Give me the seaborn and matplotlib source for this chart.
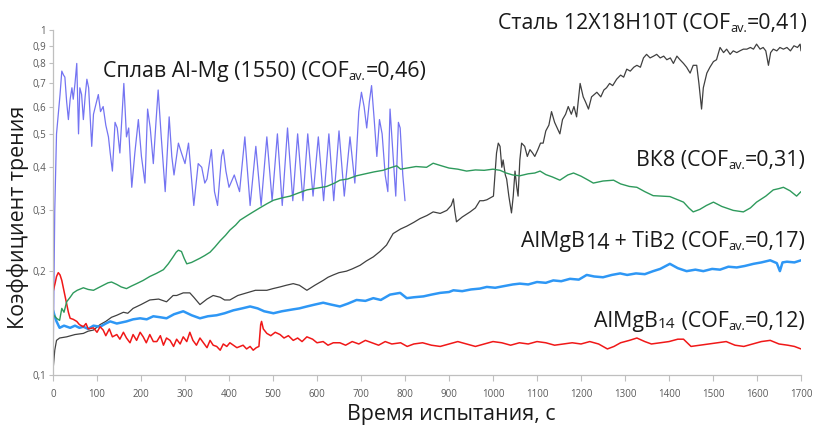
import numpy as np
import pandas as pd
import matplotlib
matplotlib.use("Agg")
import matplotlib.pyplot as plt
import seaborn as sns

# ---------------- data ----------------
t_almg = [0, 4, 8, 12, 16, 20, 24, 27, 31, 35, 39, 43, 46, 50, 54, 58, 61, 65, 69, 73, 77, 81,
          88, 92, 99, 103, 108, 114, 120, 126, 130, 135, 141, 146, 152, 161, 167, 172, 179, 186,
          194, 201, 209, 215, 221, 228, 234, 239, 246, 255, 264, 270, 275, 285, 292, 300, 308,
          320, 330, 338, 345, 350, 360, 367, 374, 383, 387, 393, 400, 412, 424, 436, 448, 461,
          473, 486, 498, 510, 521, 533, 545, 556, 568, 579, 591, 603, 615, 627, 638, 650, 662,
          675, 686, 695, 701, 707, 713, 719, 724, 730, 736, 742, 748, 755, 761, 766, 772, 779,
          785, 789, 795, 800]
cof_almg = [0.10, 0.30, 0.50, 0.57, 0.65, 0.76, 0.74, 0.73, 0.62, 0.55, 0.63, 0.68, 0.63, 0.70,
            0.80, 0.50, 0.68, 0.65, 0.55, 0.64, 0.72, 0.68, 0.46, 0.57, 0.62, 0.65, 0.58, 0.60,
            0.53, 0.49, 0.44, 0.39, 0.54, 0.52, 0.44, 0.70, 0.49, 0.52, 0.35, 0.44, 0.55, 0.43,
            0.36, 0.59, 0.52, 0.41, 0.54, 0.67, 0.49, 0.34, 0.56, 0.43, 0.38, 0.47, 0.44, 0.41,
            0.47, 0.31, 0.41, 0.40, 0.36, 0.37, 0.45, 0.34, 0.31, 0.43, 0.45, 0.39, 0.35, 0.38,
            0.34, 0.49, 0.31, 0.46, 0.31, 0.49, 0.32, 0.50, 0.31, 0.52, 0.32, 0.50, 0.32, 0.50,
            0.33, 0.49, 0.32, 0.50, 0.32, 0.51, 0.33, 0.49, 0.36, 0.58, 0.66, 0.60, 0.52, 0.62,
            0.69, 0.55, 0.43, 0.55, 0.50, 0.38, 0.34, 0.59, 0.45, 0.33, 0.54, 0.52, 0.38, 0.32]

t_steel = [0, 4, 8, 15, 31, 50, 69, 80, 92, 107, 120, 133, 145, 160, 170, 182, 200, 220, 240,
           258, 273, 281, 296, 311, 320, 334, 350, 364, 380, 390, 402, 420, 440, 460, 486, 500,
           516, 530, 546, 560, 577, 595, 614, 625, 637, 650, 667, 680, 698, 712, 728, 743, 758,
           773, 790, 804, 820, 834, 850, 864, 880, 895, 905, 910, 913, 917, 930, 948, 960, 970,
           978, 986, 1001, 1008, 1012, 1016, 1020, 1023, 1028, 1031, 1036, 1042, 1046, 1050,
           1054, 1057, 1061, 1065, 1072, 1078, 1084, 1090, 1095, 1102, 1108, 1114, 1120, 1127,
           1133, 1140, 1146, 1152, 1158, 1165, 1171, 1178, 1184, 1190, 1198, 1205, 1210, 1217,
           1224, 1230, 1236, 1245, 1252, 1258, 1265, 1272, 1281, 1290, 1297, 1304, 1312, 1320,
           1327, 1335, 1342, 1349, 1357, 1365, 1372, 1380, 1388, 1395, 1403, 1410, 1418, 1425,
           1433, 1440, 1448, 1455, 1463, 1468, 1474, 1478, 1486, 1493, 1501, 1508, 1516, 1524,
           1531, 1539, 1546, 1554, 1561, 1569, 1577, 1585, 1592, 1599, 1607, 1614, 1620, 1626,
           1631, 1637, 1645, 1652, 1660, 1668, 1676, 1684, 1692, 1698, 1700]
cof_steel = [0.103, 0.118, 0.126, 0.128, 0.129, 0.131, 0.132, 0.134, 0.135, 0.140, 0.143, 0.147,
             0.149, 0.152, 0.151, 0.156, 0.160, 0.165, 0.166, 0.163, 0.170, 0.170, 0.173, 0.173,
             0.168, 0.160, 0.166, 0.170, 0.168, 0.165, 0.165, 0.170, 0.173, 0.176, 0.176, 0.178,
             0.180, 0.182, 0.184, 0.182, 0.176, 0.182, 0.188, 0.192, 0.195, 0.198, 0.200, 0.203,
             0.208, 0.214, 0.220, 0.228, 0.238, 0.257, 0.265, 0.270, 0.277, 0.284, 0.290, 0.297,
             0.294, 0.300, 0.310, 0.324, 0.300, 0.278, 0.287, 0.297, 0.305, 0.320, 0.320, 0.322,
             0.330, 0.440, 0.470, 0.460, 0.400, 0.420, 0.380, 0.370, 0.330, 0.295, 0.330, 0.390,
             0.350, 0.330, 0.420, 0.470, 0.460, 0.430, 0.450, 0.440, 0.430, 0.450, 0.470, 0.470,
             0.510, 0.530, 0.580, 0.540, 0.520, 0.500, 0.550, 0.570, 0.600, 0.570, 0.600, 0.560,
             0.700, 0.640, 0.620, 0.590, 0.640, 0.650, 0.660, 0.640, 0.670, 0.680, 0.700, 0.690,
             0.720, 0.740, 0.730, 0.770, 0.760, 0.780, 0.790, 0.780, 0.830, 0.850, 0.830, 0.840,
             0.850, 0.830, 0.840, 0.820, 0.830, 0.800, 0.840, 0.820, 0.800, 0.780, 0.750, 0.790,
             0.790, 0.700, 0.590, 0.680, 0.750, 0.780, 0.810, 0.820, 0.890, 0.860, 0.880, 0.850,
             0.870, 0.860, 0.870, 0.880, 0.880, 0.890, 0.880, 0.910, 0.880, 0.890, 0.870, 0.790,
             0.860, 0.880, 0.870, 0.890, 0.880, 0.890, 0.870, 0.900, 0.890, 0.910, 0.870]

t_vk8 = [0, 8, 15, 20, 25, 31, 39, 46, 55, 69, 80, 92, 103, 114, 125, 133, 145, 155, 167, 178,
         190, 205, 220, 235, 251, 262, 273, 280, 285, 292, 298, 304, 315, 334, 345, 357, 368,
         380, 392, 402, 415, 425, 440, 455, 470, 485, 501, 520, 539, 558, 577, 600, 622, 640,
         652, 670, 690, 710, 730, 750, 765, 781, 790, 805, 825, 849, 864, 880, 900, 920, 940,
         960, 980, 1000, 1016, 1030, 1045, 1061, 1080, 1095, 1107, 1120, 1135, 1152, 1170, 1183,
         1200, 1215, 1228, 1250, 1274, 1290, 1310, 1327, 1345, 1364, 1383, 1402, 1420, 1433,
         1445, 1455, 1470, 1485, 1501, 1520, 1546, 1569, 1585, 1599, 1620, 1637, 1650, 1660,
         1675, 1690, 1700]
cof_vk8 = [0.150, 0.146, 0.144, 0.156, 0.152, 0.163, 0.168, 0.173, 0.176, 0.179, 0.177, 0.176,
           0.179, 0.182, 0.185, 0.186, 0.183, 0.180, 0.178, 0.181, 0.184, 0.188, 0.193, 0.197,
           0.202, 0.210, 0.220, 0.227, 0.230, 0.228, 0.218, 0.210, 0.212, 0.218, 0.222, 0.227,
           0.235, 0.245, 0.254, 0.263, 0.272, 0.281, 0.289, 0.297, 0.305, 0.313, 0.321, 0.326,
           0.330, 0.337, 0.344, 0.348, 0.352, 0.360, 0.367, 0.370, 0.378, 0.383, 0.388, 0.392,
           0.398, 0.404, 0.395, 0.398, 0.402, 0.400, 0.411, 0.405, 0.398, 0.395, 0.390, 0.393,
           0.392, 0.395, 0.392, 0.385, 0.380, 0.378, 0.383, 0.385, 0.390, 0.381, 0.375, 0.367,
           0.380, 0.385, 0.377, 0.368, 0.360, 0.365, 0.367, 0.358, 0.352, 0.350, 0.340, 0.331,
           0.330, 0.329, 0.322, 0.317, 0.305, 0.297, 0.302, 0.310, 0.317, 0.308, 0.300, 0.297,
           0.305, 0.317, 0.330, 0.344, 0.347, 0.350, 0.342, 0.330, 0.340]

t_tib2 = [0, 4, 8, 15, 25, 39, 50, 60, 69, 80, 92, 107, 120, 130, 145, 167, 182, 198, 213, 228,
          244, 258, 275, 296, 315, 334, 352, 372, 390, 410, 430, 448, 465, 480, 501, 520, 546,
          560, 577, 595, 614, 632, 652, 670, 690, 710, 728, 745, 766, 789, 804, 820, 842, 860,
          880, 900, 910, 930, 950, 970, 986, 1005, 1025, 1045, 1061, 1080, 1100, 1120, 1137,
          1155, 1175, 1195, 1213, 1230, 1250, 1270, 1289, 1305, 1325, 1345, 1364, 1380, 1402,
          1420, 1440, 1460, 1478, 1498, 1516, 1535, 1554, 1572, 1592, 1610, 1630, 1645, 1652,
          1658, 1668, 1685, 1700]
cof_tib2 = [0.154, 0.148, 0.143, 0.137, 0.139, 0.137, 0.139, 0.137, 0.138, 0.136, 0.139, 0.138,
            0.141, 0.143, 0.141, 0.143, 0.145, 0.146, 0.145, 0.148, 0.147, 0.146, 0.150, 0.153,
            0.149, 0.146, 0.148, 0.149, 0.151, 0.154, 0.156, 0.158, 0.156, 0.153, 0.151, 0.153,
            0.155, 0.156, 0.158, 0.160, 0.162, 0.160, 0.158, 0.161, 0.165, 0.164, 0.167, 0.165,
            0.171, 0.173, 0.167, 0.168, 0.169, 0.171, 0.173, 0.174, 0.176, 0.175, 0.177, 0.178,
            0.180, 0.179, 0.181, 0.183, 0.184, 0.183, 0.186, 0.185, 0.188, 0.187, 0.190, 0.189,
            0.195, 0.193, 0.192, 0.195, 0.197, 0.195, 0.197, 0.196, 0.200, 0.203, 0.210, 0.204,
            0.200, 0.202, 0.200, 0.203, 0.202, 0.206, 0.205, 0.207, 0.210, 0.212, 0.215, 0.211,
            0.200, 0.212, 0.213, 0.212, 0.215]

t_almgb = [0, 5, 8, 12, 16, 20, 25, 31, 35, 39, 46, 54, 60, 69, 75, 80, 92, 100, 107, 114, 120,
           128, 135, 145, 152, 160, 167, 175, 182, 190, 198, 205, 212, 220, 228, 236, 244, 251,
           258, 266, 274, 281, 289, 296, 304, 311, 318, 326, 334, 342, 350, 357, 364, 372, 380,
           387, 395, 402, 410, 418, 425, 432, 440, 448, 455, 462, 468, 472, 474, 478, 486, 495,
           505, 516, 525, 535, 546, 556, 566, 577, 590, 600, 614, 625, 637, 652, 665, 680, 695,
           710, 725, 740, 755, 770, 790, 805, 820, 840, 860, 880, 900, 920, 940, 960, 980, 1000,
           1020, 1040, 1060, 1080, 1100, 1120, 1140, 1160, 1180, 1200, 1220, 1240, 1260, 1275,
           1290, 1310, 1327, 1345, 1360, 1380, 1400, 1420, 1433, 1450, 1470, 1490, 1510, 1530,
           1550, 1570, 1590, 1610, 1630, 1650, 1670, 1685, 1700]
cof_almgb = [0.174, 0.185, 0.193, 0.198, 0.195, 0.188, 0.175, 0.160, 0.152, 0.146, 0.145, 0.143,
             0.140, 0.138, 0.141, 0.136, 0.137, 0.133, 0.138, 0.135, 0.130, 0.136, 0.129, 0.131,
             0.127, 0.133, 0.128, 0.124, 0.131, 0.126, 0.133, 0.129, 0.124, 0.131, 0.125, 0.125,
             0.130, 0.122, 0.128, 0.126, 0.121, 0.127, 0.123, 0.129, 0.125, 0.133, 0.126, 0.122,
             0.128, 0.124, 0.120, 0.126, 0.122, 0.121, 0.118, 0.123, 0.121, 0.124, 0.122, 0.120,
             0.121, 0.122, 0.119, 0.121, 0.118, 0.120, 0.121, 0.140, 0.143, 0.136, 0.132, 0.130,
             0.133, 0.131, 0.128, 0.130, 0.126, 0.128, 0.125, 0.129, 0.127, 0.124, 0.125, 0.122,
             0.124, 0.124, 0.122, 0.125, 0.123, 0.126, 0.124, 0.122, 0.125, 0.123, 0.124, 0.121,
             0.123, 0.124, 0.122, 0.121, 0.123, 0.125, 0.123, 0.121, 0.123, 0.125, 0.124, 0.122,
             0.124, 0.123, 0.125, 0.124, 0.122, 0.123, 0.124, 0.123, 0.125, 0.123, 0.119, 0.121,
             0.124, 0.126, 0.128, 0.125, 0.123, 0.124, 0.125, 0.127, 0.127, 0.121, 0.122, 0.123,
             0.124, 0.125, 0.122, 0.121, 0.123, 0.125, 0.126, 0.123, 0.122, 0.121, 0.119]

x_ticks = list(range(0, 1701, 100))
y_ticks = [0.1, 0.2, 0.3, 0.4, 0.5, 0.6, 0.7, 0.8, 0.9, 1.0]
y_tick_labels = ["0,1", "0,2", "0,3", "0,4", "0,5", "0,6", "0,7", "0,8", "0,9", "1"]

# ---------------- style ----------------
sns.set_theme(style="white")
plt.rcParams["font.family"] = ["Open Sans", "DejaVu Sans"]

W, H = 815, 425
fig = plt.figure(figsize=(W / 100, H / 100), dpi=100)
ax = fig.add_axes([53 / W, 50 / H, 748 / W, 345 / H])

series = [
    (t_almg, cof_almg, "#7474F2", 0.9),
    (t_steel, cof_steel, "#404040", 0.9),
    (t_tib2, cof_tib2, "#2E97F5", 1.8),
    (t_almgb, cof_almgb, "#F01818", 1.1),
    (t_vk8, cof_vk8, "#2E9A5C", 1.0),
]
for tt, cc, col, lw in series:
    df = pd.DataFrame({"t": tt, "cof": cc})
    sns.lineplot(data=df, x="t", y="cof", ax=ax, color=col, linewidth=lw,
                 estimator=None, sort=False)

ax.set_yscale("log")
ax.set_xlim(0, 1700)
ax.set_ylim(0.1, 1.0)
ax.set_xticks(x_ticks)
ax.set_xticklabels([str(v) for v in x_ticks])
ax.set_yticks(y_ticks)
ax.set_yticklabels(y_tick_labels)
ax.yaxis.set_minor_locator(matplotlib.ticker.NullLocator())
ax.set_xlabel("")
ax.set_ylabel("")

for s in ["top", "right"]:
    ax.spines[s].set_visible(False)
for s in ["left", "bottom"]:
    ax.spines[s].set_color("#BFBFBF")
    ax.spines[s].set_linewidth(0.9)
ax.tick_params(axis="x", which="major", direction="out", length=4, width=0.8,
               color="#BFBFBF", labelsize=7, labelcolor="#595959", pad=6, bottom=True)
ax.tick_params(axis="y", which="major", direction="out", length=3, width=0.8,
               color="#BFBFBF", labelsize=7, labelcolor="#595959", pad=2, left=True)

# ---------------- annotations (rich text with subscripts) ----------------
renderer = fig.canvas.get_renderer()
FS, SUB = 15.4, 9.2
TXT = "#1a1a1a"


def rich(x_px, base_px, parts, align="left"):
    """parts: list of (string, fontsize, drop_px)."""
    widths = []
    for s, f, d in parts:
        tmp = fig.text(0, 0, s, fontsize=f)
        widths.append(tmp.get_window_extent(renderer).width)
        tmp.remove()
    total = sum(widths)
    x = x_px if align == "left" else x_px - total
    for (s, f, d), w in zip(parts, widths):
        fig.text(x / W, 1 - (base_px + d) / H, s, fontsize=f, color=TXT,
                 ha="left", va="baseline")
        x += w


rich(103, 77, [("Сплав Al-Mg (1550) (COF", FS, 0), ("av.", SUB, 3), ("=0,46)", FS, 0)])
rich(808, 29.5, [("Сталь 12X18H10T (COF", FS, 0), ("av.", SUB, 3), ("=0,41)", FS, 0)],
     align="right")
rich(806, 166, [("ВК8 (COF", FS, 0), ("av.", SUB, 3), ("=0,31)", FS, 0)], align="right")
rich(806, 247, [("AlMgB", FS, 0), ("14", FS, 2), (" + TiB", FS, 0), ("2", FS, 2),
                (" (COF", FS, 0), ("av.", SUB, 3), ("=0,17)", FS, 0)], align="right")
rich(806, 327, [("AlMgB", FS, 0), ("14", 11, 1), (" (COF", FS, 0), ("av.", SUB, 3),
                ("=0,12)", FS, 0)], align="right")

fig.text(451 / W, 1 - 420 / H, "Время испытания, с", ha="center", va="baseline",
         fontsize=FS, color=TXT)
fig.text(18 / W, 1 - 217 / H, "Коэффициент трения", ha="center", va="center",
         rotation=90, fontsize=FS, color=TXT)

fig.savefig("out.png", dpi=100)
